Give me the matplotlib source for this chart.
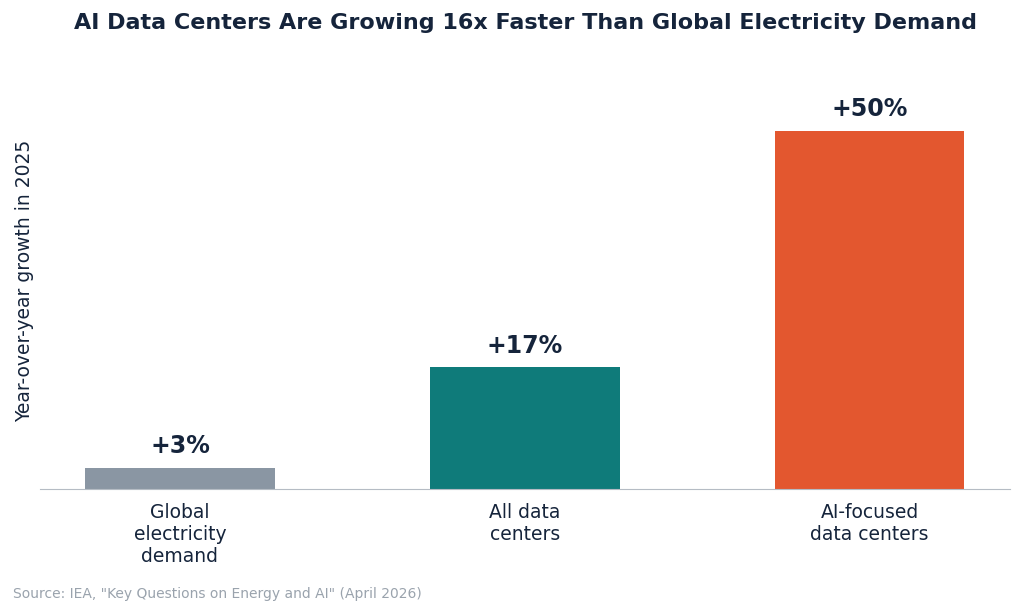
import matplotlib.pyplot as plt

categories = ["Global\nelectricity\ndemand", "All data\ncenters", "AI-focused\ndata centers"]
growth = [3, 17, 50]
labels = ["+3%", "+17%", "+50%"]
colors = ["#8a96a3", "#0f7b7a", "#e3572f"]

navy = "#15243b"

fig = plt.figure(figsize=(10.24, 6.16), dpi=100)
ax = fig.add_axes([0.039, 0.206, 0.947, 0.675])

xs = range(len(categories))
ax.bar(xs, growth, width=0.55, color=colors)
for x, v, lab in zip(xs, growth, labels):
    ax.text(x, v + 1.3, lab, ha="center", va="bottom", fontsize=17,
            fontweight="bold", color=navy)

ax.set_xlim(-0.406, 2.406)
ax.set_ylim(0, 58)
ax.set_xticks(list(xs))
ax.set_xticklabels(categories, fontsize=13.5, color=navy)
ax.tick_params(axis="x", length=0, pad=10)
ax.set_yticks([])
ax.set_ylabel("Year-over-year growth in 2025", fontsize=13.5, color=navy)
for s in ["top", "right", "left"]:
    ax.spines[s].set_visible(False)
ax.spines["bottom"].set_color("#b5bcc4")

fig.text(0.513, 0.962, "AI Data Centers Are Growing 16x Faster Than Global Electricity Demand",
         ha="center", va="center", fontsize=16, fontweight="bold", color=navy)
fig.text(0.013, 0.035, 'Source: IEA, "Key Questions on Energy and AI" (April 2026)',
         ha="left", va="center", fontsize=10, color="#9aa3ad")

fig.savefig("out.png", dpi=100)
